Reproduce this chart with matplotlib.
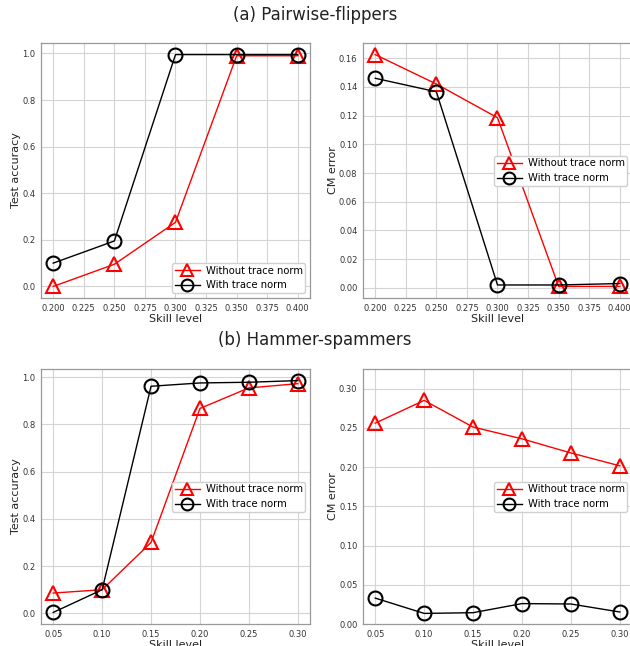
import numpy as np
import matplotlib
matplotlib.use("Agg")
import matplotlib.pyplot as plt

# Pairwise-flippers
skill_a = [0.20, 0.25, 0.30, 0.35, 0.40]
acc_a_without = [0.0, 0.095, 0.275, 0.99, 0.99]
acc_a_with = [0.10, 0.195, 0.995, 0.995, 0.995]
cm_a_without = [0.1625, 0.142, 0.1185, 0.001, 0.001]
cm_a_with = [0.146, 0.1366, 0.002, 0.002, 0.003]

# Hammer-spammers
skill_b = [0.05, 0.10, 0.15, 0.20, 0.25, 0.30]
acc_b_without = [0.086, 0.10, 0.30, 0.867, 0.954, 0.972]
acc_b_with = [0.004, 0.10, 0.961, 0.975, 0.978, 0.985]
cm_b_without = [0.256, 0.285, 0.251, 0.236, 0.218, 0.2016]
cm_b_with = [0.033, 0.0135, 0.0144, 0.026, 0.0255, 0.0153]

labels = ["Without trace norm", "With trace norm"]

fig = plt.figure(figsize=(6.30, 6.46), dpi=100)

# axes positions in figure fractions
W = 269 / 630
H = 255 / 646
ax1 = fig.add_axes([41 / 630, 1 - 298 / 646, W, H])
ax2 = fig.add_axes([363 / 630, 1 - 298 / 646, W, H])
ax3 = fig.add_axes([41 / 630, 1 - 624 / 646, W, H])
ax4 = fig.add_axes([363 / 630, 1 - 624 / 646, W, H])


def draw(ax, x, y_without, y_with, ylabel, loc):
    ax.plot(x, y_without, color="red", lw=1.0, marker="^", ms=10,
            mfc="none", mec="red", mew=1.5, label=labels[0])
    ax.plot(x, y_with, color="black", lw=1.0, marker="o", ms=10,
            mfc="none", mec="black", mew=1.5, label=labels[1])
    ax.set_xlabel("Skill level", fontsize=8, color="#222222", labelpad=1)
    ax.set_ylabel(ylabel, fontsize=8, color="#222222", labelpad=1)
    ax.grid(True, color="#d4d4d4", lw=0.8)
    ax.set_axisbelow(True)
    ax.tick_params(length=0, labelsize=6, colors="#333333", pad=4)
    for s in ax.spines.values():
        s.set_color("#999999")
        s.set_linewidth(0.9)
    leg = ax.legend(loc=loc, fontsize=7.2, framealpha=1.0, borderpad=0.25,
                    handlelength=2.5, labelspacing=0.5, handletextpad=0.6,
                    borderaxespad=0.5, fancybox=True, markerscale=0.85)
    leg.get_frame().set_edgecolor("#d0d0d0")


draw(ax1, skill_a, acc_a_without, acc_a_with, "Test accuracy", "lower right")
draw(ax2, skill_a, cm_a_without, cm_a_with, "CM error", "center right")
draw(ax3, skill_b, acc_b_without, acc_b_with, "Test accuracy", "center right")
draw(ax4, skill_b, cm_b_without, cm_b_with, "CM error", "center right")
ax4.set_ylim(0, 0.325)

ax1.set_xticks(np.arange(0.2, 0.401, 0.025))
ax2.set_xticks(np.arange(0.2, 0.401, 0.025))
ax1.set_xticklabels(["%.3f" % v for v in np.arange(0.2, 0.401, 0.025)])
ax2.set_xticklabels(["%.3f" % v for v in np.arange(0.2, 0.401, 0.025)])

fig.text(0.5, 1 - 15 / 646, "(a) Pairwise-flippers", ha="center", va="center",
         fontsize=12, color="#222222")
fig.text(0.5, 1 - 340 / 646, "(b) Hammer-spammers", ha="center", va="center",
         fontsize=12, color="#222222")

fig.savefig("out.png", dpi=100)
